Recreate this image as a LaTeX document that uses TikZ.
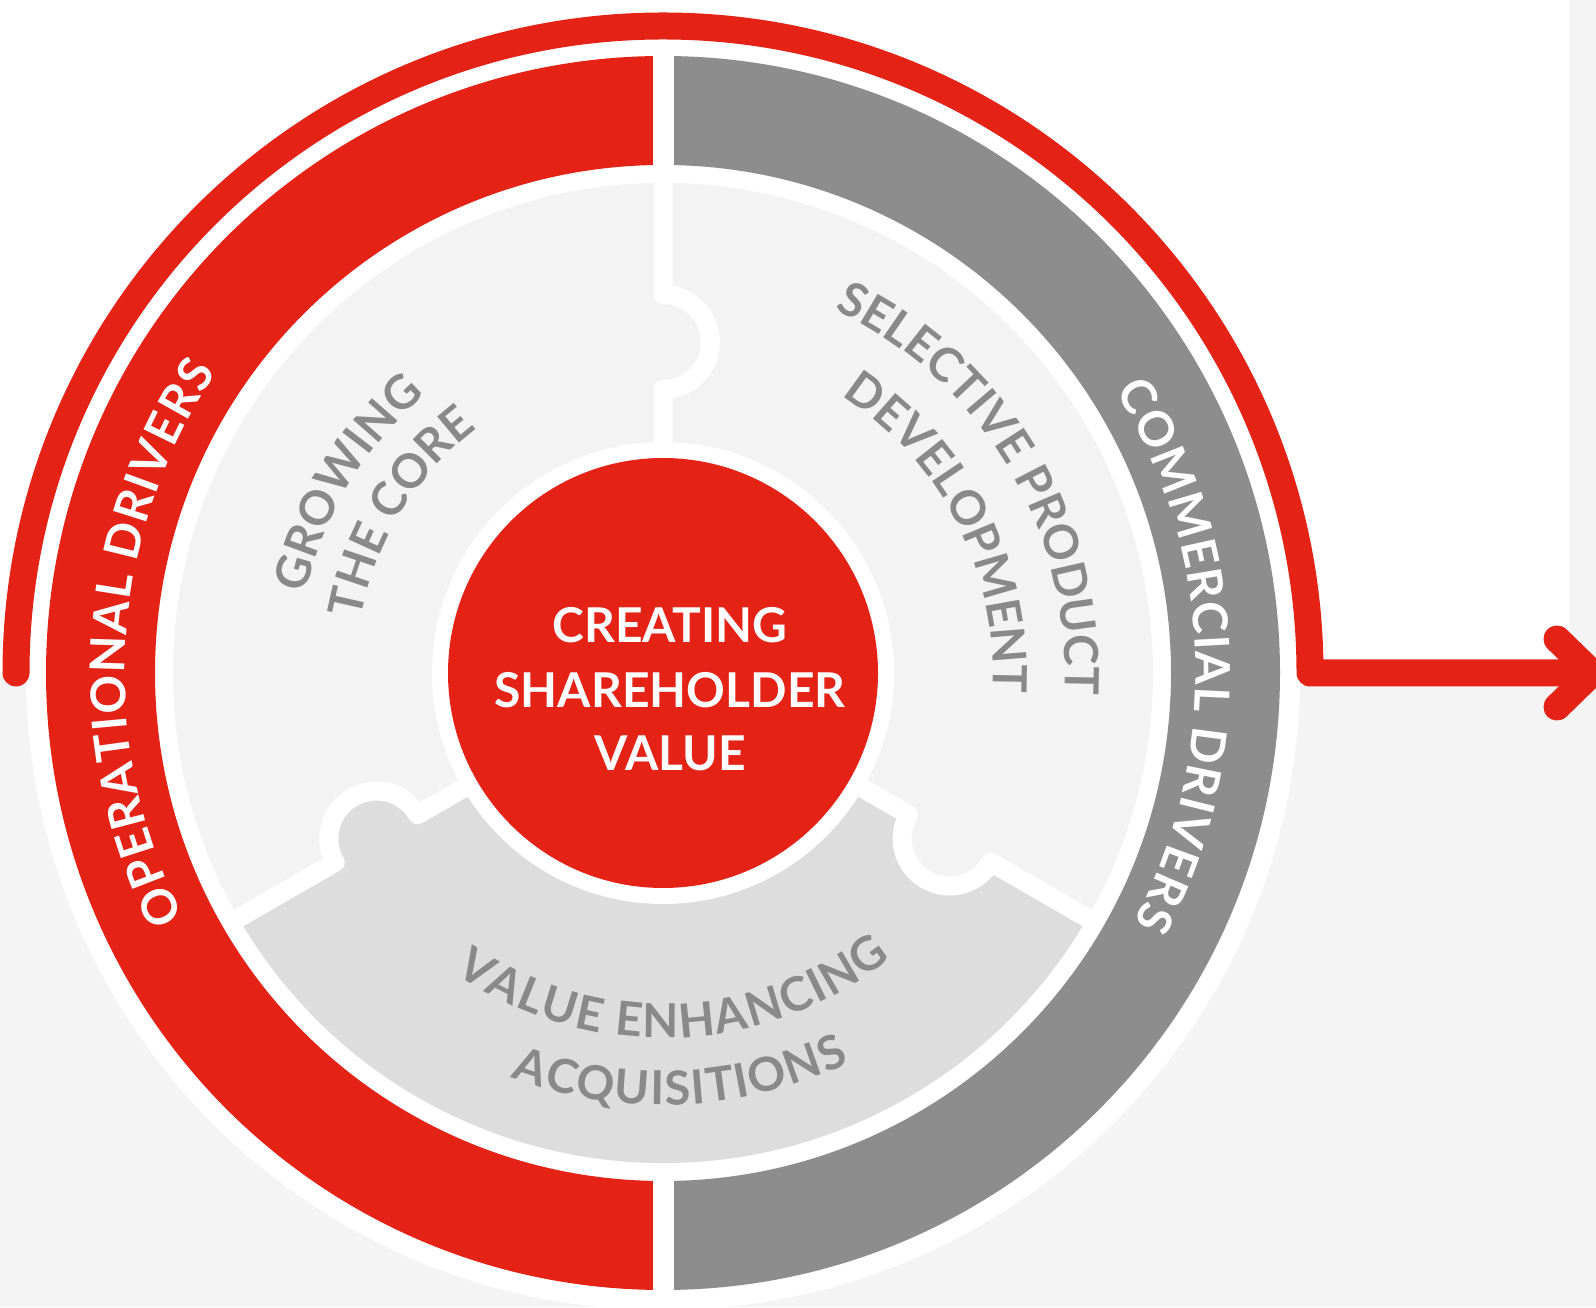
\documentclass[tikz,border=0pt]{standalone}
\usepackage{fontspec}
\setmainfont{Lato}

\definecolor{brandred}{RGB}{228,35,22}
\definecolor{bandgray}{RGB}{140,141,140}
\definecolor{textgray}{RGB}{136,137,136}
\definecolor{piecelight}{RGB}{242,243,242}
\definecolor{piecedark}{RGB}{220,221,220}
\definecolor{bggray}{RGB}{243,244,243}

\tikzset{
  sepline/.style={draw=white, line width=19, line join=round},
  flowline/.style={draw=brandred, line width=27, line cap=round, line join=round},
  coretext/.style={text=white, font=\bfseries\fontsize{48}{48}\selectfont, inner sep=0},
}

% Set a word letter by letter on a circle around the origin.
% [#1] extra letter spacing, #2 baseline radius, #3 centre angle,
% #4 1 = clockwise (tops outward), -1 = anticlockwise (tops inward),
% #5 font, #6 colour, #7 letters, #8 name prefix
\newbox\glyphbox
\newdimen\glyphw
\newdimen\arcsumdim
\newdimen\arcposdim
\newdimen\trackdim
\newcommand\arctext[8][0]{%
  \global\trackdim=#1pt
  \global\arcsumdim=-\trackdim
  \foreach \ch in {#7}{%
    \pgfinterruptpicture
      \setbox\glyphbox\hbox{#5\ch}%
      \global\advance\arcsumdim by \wd\glyphbox
      \global\advance\arcsumdim by \trackdim
    \endpgfinterruptpicture
  }%
  \global\arcposdim=-0.5\arcsumdim
  \foreach \ch [count=\k] in {#7}{%
    \pgfinterruptpicture
      \setbox\glyphbox\hbox{#5\ch}%
      \global\glyphw=\wd\glyphbox
    \endpgfinterruptpicture
    \pgfmathsetmacro\chang{(#3)-(#4)*(\the\arcposdim+0.5*\the\glyphw)/(#2)*180/pi}%
    \pgfmathsetmacro\chrot{\chang-(#4)*90}%
    \node[inner sep=0, anchor=base, rotate=\chrot, font={#5}, text=#6]
      (#8-\k) at (\chang:#2) {\ch};
    \global\advance\arcposdim by \glyphw
    \global\advance\arcposdim by \trackdim
  }%
}
\newcommand\bandfont{\bfseries\fontsize{48}{48}\selectfont}
\newcommand\piecefont{\bfseries\fontsize{47}{47}\selectfont}

\begin{document}
\begin{tikzpicture}[x=1pt,y=1pt]
\useasboundingbox (0,0) rectangle (1596,1307);
\fill[bggray] (0,0) rectangle (1596,1307);
\fill[white] (0,634) rectangle (1569,1307);

\begin{scope}[shift={(663,634)}]
  % white backing disc
  \fill[white] (0,0) circle[radius=637];

  % drivers band: operational (left) and commercial (right)
  \fill[brandred] (90:617) arc[start angle=90,end angle=270,radius=617]
     -- (270:508) arc[start angle=270,end angle=90,radius=508] -- cycle;
  \fill[bandgray] (90:617) arc[start angle=90,end angle=-90,radius=617]
     -- (-90:508) arc[start angle=-90,end angle=90,radius=508] -- cycle;
  \fill[white] (-10.5,500) rectangle (10.5,625);
  \fill[white] (-10.5,-625) rectangle (10.5,-500);

  % puzzle pieces
  \fill[piecelight] (0,0) circle[radius=490];
  \fill[piecedark] (0,0) -- (210:490) arc[start angle=210,end angle=330,radius=490] -- cycle;
  \foreach \a/\c in {90/piecelight,330/piecelight,210/piecedark}
    \fill[\c] (\a:331) circle[radius=47.5];
  \foreach \a in {90,330,210}
    \draw[sepline, rotate=\a-90] (0,500) -- (0,378.5)
      arc[start angle=90,end angle=-90,radius=47.5] -- (0,220);

  % centre
  \fill[white] (0,0) circle[radius=231];
  \node[circle, fill=brandred, minimum size=430, inner sep=0] (core) at (0,0) {};
  \node[coretext, anchor=base] (l1) at (7,30) {CREATING};
  \node[coretext, anchor=base] (l2) at (7,-34.5) {SHAREHOLDER};
  \node[coretext, anchor=base] (l3) at (7,-97.5) {VALUE};

  % outer flow arrow
  \coordinate (flowstart) at (180:647);
  \coordinate (tip) at (929,0);
  \coordinate (armup) at (894,34);
  \coordinate (armdown) at (894,-34);
  \draw[flowline] (flowstart) arc[start angle=180,end angle=0,radius=647] -- (tip);
  \draw[flowline] (armup) -- (tip) -- (armdown);

  % curved labels
  \arctext[1.3]{538}{176.5}{1}{\bandfont}{white}{O,P,E,R,A,T,I,O,N,A,L,\ ,D,R,I,V,E,R,S}{op}
  \arctext[1.3]{533}{2}{1}{\bandfont}{white}{C,O,M,M,E,R,C,I,A,L,\ ,D,R,I,V,E,R,S}{cm}

  \arctext{366}{149}{1}{\piecefont}{textgray}{G,R,O,W,I,N,G}{gr}
  \arctext{307}{148.6}{1}{\piecefont}{textgray}{T,H,E,\ ,C,O,R,E}{tc}

  \arctext{402}{30.8}{1}{\piecefont}{textgray}{S,E,L,E,C,T,I,V,E,\ ,P,R,O,D,U,C,T}{sp}
  \arctext{330}{26.9}{1}{\piecefont}{textgray}{D,E,V,E,L,O,P,M,E,N,T}{dv}

  \arctext[1.5]{365}{272}{-1}{\piecefont}{textgray}{V,A,L,U,E,\ ,E,N,H,A,N,C,I,N,G}{ve}
  \arctext[1.5]{432}{272.5}{-1}{\piecefont}{textgray}{A,C,Q,U,I,S,I,T,I,O,N,S}{aq}
\end{scope}
\end{tikzpicture}
\end{document}
